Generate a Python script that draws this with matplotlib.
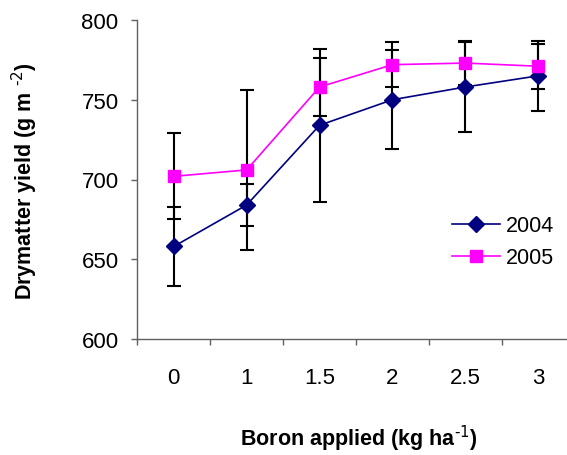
import matplotlib.pyplot as plt
import numpy as np

plt.rcParams['font.family'] = ['Liberation Sans', 'DejaVu Sans']

BORON_LABELS = ["0", "1", "1.5", "2", "2.5", "3"]
YIELD_2004 = [658, 684, 734, 750, 758, 765]
ERR_2004 = [25, 13, 48, 31, 28, 22]
YIELD_2005 = [702, 706, 758, 772, 773, 771]
ERR_2005 = [27, 50, 18, 14, 14, 14]


def main():
    fig = plt.figure(figsize=(5.67, 4.56), dpi=100)
    ax = fig.add_axes([137.3 / 567, 116 / 456, 437.4 / 567, 319 / 456])
    x = np.arange(len(BORON_LABELS))

    ax.errorbar(x, YIELD_2004, yerr=ERR_2004, fmt='none', ecolor='black',
                elinewidth=1.5, capsize=5, capthick=1.5, zorder=1)
    ax.errorbar(x, YIELD_2005, yerr=ERR_2005, fmt='none', ecolor='black',
                elinewidth=1.5, capsize=5, capthick=1.5, zorder=1)
    ax.plot(x, YIELD_2004, color='#000080', marker='D', markersize=8,
            linewidth=1.2, label='2004', zorder=3)
    ax.plot(x, YIELD_2005, color='#FF00FF', marker='s', markersize=8,
            linewidth=1.2, label='2005', zorder=4)

    ax.set_xlim(-0.5, 5.5)
    ax.set_ylim(600, 800)
    ax.set_yticks([600, 650, 700, 750, 800])
    # category boundaries carry the tick marks, labels sit in between
    ax.set_xticks(np.arange(-0.5, 6, 1), minor=False)
    ax.set_xticklabels([])
    ax.set_xticks(x, minor=True)
    ax.set_xticklabels(BORON_LABELS, minor=True)
    ax.tick_params(axis='x', which='major', direction='out', length=4,
                   width=1, color='#606060')
    ax.tick_params(axis='x', which='minor', length=0, labelsize=16, pad=20)
    ax.tick_params(axis='y', direction='out', length=4, width=1,
                   color='#606060', labelsize=16, pad=9.5)

    for side in ['top', 'right']:
        ax.spines[side].set_visible(False)
    for side in ['left', 'bottom']:
        ax.spines[side].set_color('#606060')
        ax.spines[side].set_linewidth(1)

    ax.set_ylabel('Drymatter yield (g m $^{\\mathbf{\\text{-2}}}$)', fontsize=15.5,
                  fontweight='bold')
    ax.yaxis.set_label_coords(-0.222, 0.497)
    ax.set_xlabel('Boron applied (kg ha$^{\\mathbf{\\text{-1}}}$)', fontsize=15.5,
                  fontweight='bold')
    ax.xaxis.set_label_coords(0.507, -0.262)

    ax.legend(loc='center left', bbox_to_anchor=(0.7195, 0.305), frameon=False,
              fontsize=15.5, handlelength=2.23, handletextpad=0.25,
              labelspacing=0.5, borderpad=0, borderaxespad=0)

    fig.savefig('out.png', dpi=100)
    plt.close(fig)


if __name__ == "__main__":
    main()
